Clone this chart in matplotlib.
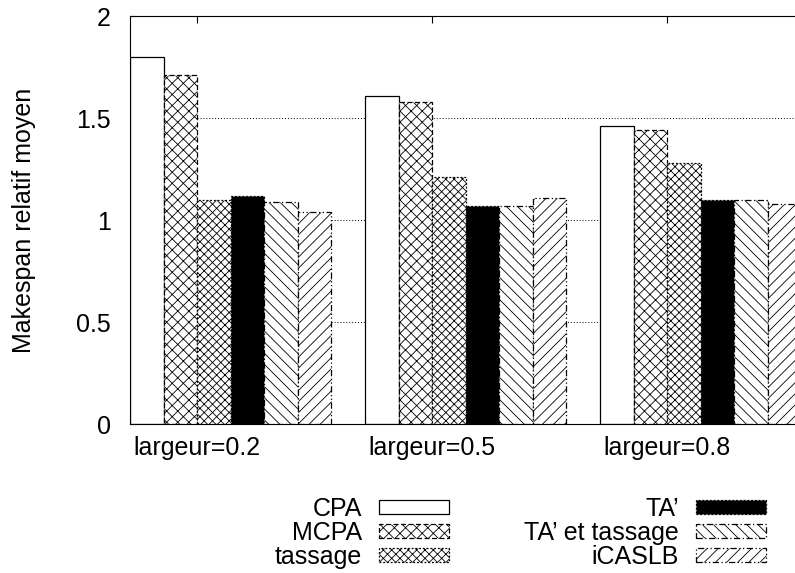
import matplotlib

matplotlib.use("Agg")
import matplotlib.pyplot as plt

plt.rcParams["font.family"] = ["Liberation Sans", "DejaVu Sans"]
plt.rcParams["hatch.linewidth"] = 0.6

# data
groups = ["largeur=0.2", "largeur=0.5", "largeur=0.8"]
series = ["CPA", "MCPA", "tassage", "TA’", "TA’ et tassage", "iCASLB"]
cpa = [1.80, 1.61, 1.46]
mcpa = [1.71, 1.58, 1.44]
tassage = [1.10, 1.21, 1.28]
ta = [1.12, 1.07, 1.10]
ta_tassage = [1.09, 1.07, 1.10]
icaslb = [1.04, 1.11, 1.08]
yticks = [0, 0.5, 1, 1.5, 2]
ytick_labels = ["0", "0.5", "1", "1.5", "2"]

values = [cpa, mcpa, tassage, ta, ta_tassage, icaslb]
# gnuplot-like fill styles: (facecolor, hatch, edge linestyle)
styles = [
    ("white", None, "-"),
    ("white", "xxx", (0, (4, 2))),
    ("white", "xxxx", (0, (1.5, 1.5))),
    ("black", None, (0, (1.5, 1.5))),
    ("white", "\\\\\\", (0, (5, 2, 1, 2))),
    ("white", "///", (0, (5, 2, 1, 2, 1, 2))),
]

W, H = 795, 573
fig = plt.figure(figsize=(W / 100, H / 100), dpi=100)
ax = fig.add_axes([130 / W, 1 - 424 / H, 1 - 130 / W, (424 - 16) / H])

stride = len(series) + 1  # one empty slot between clusters
for i, (name, vals, (fc, hatch, ls)) in enumerate(zip(series, values, styles)):
    xs = [stride * g + i for g in range(len(groups))]
    ax.bar(xs, vals, width=1.0, facecolor=fc, edgecolor="black", hatch=hatch,
           linestyle=ls, linewidth=0.9, label=name, zorder=2)

ax.set_xlim(-0.5, 19.31)
ax.set_ylim(0, 2)
ax.set_xticks([stride * g + 1.5 for g in range(len(groups))])
ax.set_xticklabels(groups, fontsize=18)
ax.set_yticks(yticks)
ax.set_yticklabels(ytick_labels, fontsize=18)
ax.tick_params(axis="x", top=True, direction="in", length=5, pad=9)
ax.tick_params(axis="y", direction="in", length=5, pad=14)
ax.spines["right"].set_visible(False)
ax.set_axisbelow(True)
ax.yaxis.grid(True, linestyle=(0, (1, 2)), color="black", linewidth=0.7)

ax.set_ylabel("Makespan relatif moyen", fontsize=18)
ax.yaxis.set_label_coords((36 - 130) / (W - 130), 0.5)

ax.legend(ncol=2, markerfirst=False, frameon=False, fontsize=18,
          loc="upper left", bbox_to_anchor=(275 / W, 1 - 497 / H),
          bbox_transform=fig.transFigure, borderpad=0, borderaxespad=0,
          handlelength=2.8, handleheight=0.48, handletextpad=0.68,
          columnspacing=3.0, labelspacing=0.0)

fig.savefig("out.png", dpi=100)
